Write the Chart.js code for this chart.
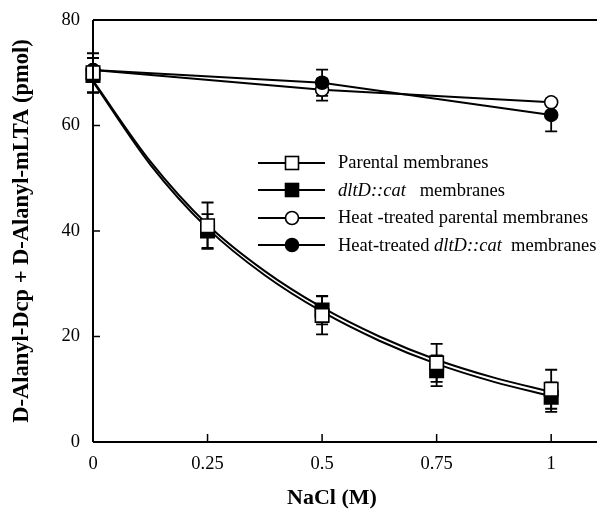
<!DOCTYPE html>
<html>
<head>
<meta charset="utf-8">
<script src="https://cdn.jsdelivr.net/npm/chart.js@4/dist/chart.umd.min.js"></script>
<style>
  html, body { margin: 0; padding: 0; background: #fff; }
  #wrap { position: relative; width: 597px; height: 509px; }
  #legend { position: absolute; left: 258px; top: 149px; font-family: 'Liberation Serif', serif; font-size: 18.5px; color: #000; }
  .row { display: flex; align-items: center; height: 27.5px; white-space: pre; }
  .row svg { margin-right: 12px; flex: none; }
  #xtitle { position: absolute; left: 232px; width: 200px; top: 484px; text-align: center; font-family: 'Liberation Serif', serif; font-weight: bold; font-size: 22px; line-height: 26px; color: #000; }
</style>
</head>
<body>
<div id="wrap">
  <canvas id="c" width="597" height="509"></canvas>
  <div id="legend"></div>
  <div id="xtitle">NaCl (M)</div>
</div>
<script>
// ---- data ----
const doses = [0, 0.25, 0.5, 0.75, 1];
const parental = [70, 41, 24, 15, 10];
const parentalErr = [3.7, 4.4, 3.6, 3.6, 3.7];
const dltD = [69.5, 40, 25, 13.5, 8.5];
const dltDErr = [3.3, 3.2, 2.7, 2.9, 2.8];
// smooth fitted curves as traced on the reference
const curveX = [0, 0.125, 0.25, 0.375, 0.5, 0.625, 0.75, 0.875, 1];
const parentalCurve = [68.5, 53.2, 41.2, 32.4, 25.5, 20.0, 15.6, 12.2, 9.5];
const dltDCurve = [68.3, 52.6, 40.5, 31.6, 24.7, 19.2, 14.8, 11.4, 8.7];
const heatDoses = [0, 0.5, 1];
const heatParental = [70.5, 66.8, 64.4];
const heatParentalErr = [0, 2.1, 0];
const heatDltD = [70.5, 68.1, 62.0];
const heatDltDErr = [0, 2.5, 3.1];
const xTicks = [0, 0.25, 0.5, 0.75, 1];
const yTicks = [0, 20, 40, 60, 80];
const legendNames = [
  [['Parental membranes', false]],
  [['dltD::cat', true], ['   membranes', false]],
  [['Heat -treated parental membranes', false]],
  [['Heat-treated ', false], ['dltD::cat', true], ['  membranes', false]]
];
const legendMarkers = [['rect', '#fff'], ['rect', '#000'], ['circle', '#fff'], ['circle', '#000']];

const toXY = (xs, ys) => xs.map((x, i) => ({x: x, y: ys[i]}));
const FONT = "'Liberation Serif', 'Times New Roman', serif";

const errorBars = {
  id: 'errorBars',
  beforeDatasetsDraw(chart) {
    const ctx = chart.ctx;
    const xs = chart.scales.x, ys = chart.scales.y;
    const sets = [
      [doses, parental, parentalErr],
      [doses, dltD, dltDErr],
      [heatDoses, heatParental, heatParentalErr],
      [heatDoses, heatDltD, heatDltDErr]
    ];
    ctx.save();
    ctx.strokeStyle = '#000';
    ctx.lineWidth = 1.8;
    sets.forEach(([xv, yv, ev]) => {
      xv.forEach((x, i) => {
        if (!ev[i]) return;
        const px = xs.getPixelForValue(x);
        const top = ys.getPixelForValue(yv[i] + ev[i]);
        const bot = ys.getPixelForValue(yv[i] - ev[i]);
        ctx.beginPath();
        ctx.moveTo(px, top); ctx.lineTo(px, bot);
        ctx.moveTo(px - 6, top); ctx.lineTo(px + 6, top);
        ctx.moveTo(px - 6, bot); ctx.lineTo(px + 6, bot);
        ctx.stroke();
      });
    });
    ctx.restore();
  }
};

const frame = {
  id: 'frame',
  afterDraw(chart) {
    const ctx = chart.ctx;
    const a = chart.chartArea;
    const xs = chart.scales.x, ys = chart.scales.y;
    ctx.save();
    ctx.strokeStyle = '#000';
    ctx.lineWidth = 2;
    ctx.beginPath();
    ctx.moveTo(a.left, a.top); ctx.lineTo(a.right, a.top);
    ctx.moveTo(a.left, a.top); ctx.lineTo(a.left, a.bottom);
    ctx.moveTo(a.left, a.bottom); ctx.lineTo(a.right, a.bottom);
    ctx.stroke();
    ctx.lineWidth = 1.5;
    ctx.beginPath();
    yTicks.forEach(v => {
      const py = ys.getPixelForValue(v);
      ctx.moveTo(a.left, py); ctx.lineTo(a.left + 7, py);
    });
    xTicks.forEach(v => {
      const px = xs.getPixelForValue(v);
      ctx.moveTo(px, a.bottom); ctx.lineTo(px, a.bottom - 8);
    });
    ctx.stroke();
    ctx.restore();
  }
};

const curveStyle = { borderColor: '#000', borderWidth: 2, pointRadius: 0, cubicInterpolationMode: 'monotone' };
const markerStyle = { showLine: false, pointBorderColor: '#000', pointBorderWidth: 1.6 };

const chart = new Chart(document.getElementById('c'), {
  type: 'line',
  data: {
    datasets: [
      Object.assign({ label: 'Parental fit', data: toXY(curveX, parentalCurve), order: 10 }, curveStyle),
      Object.assign({ label: 'dltD fit', data: toXY(curveX, dltDCurve), order: 9 }, curveStyle),
      { label: 'Heat -treated parental membranes', data: toXY(heatDoses, heatParental), borderColor: '#000', borderWidth: 2,
        pointStyle: 'circle', pointRadius: 6.5, pointBackgroundColor: '#fff', pointBorderColor: '#000', pointBorderWidth: 1.6,
        tension: 0, order: 4 },
      { label: 'Heat-treated dltD::cat membranes', data: toXY(heatDoses, heatDltD), borderColor: '#000', borderWidth: 2,
        pointStyle: 'circle', pointRadius: 6.5, pointBackgroundColor: '#000', pointBorderColor: '#000', pointBorderWidth: 1.6,
        tension: 0, order: 3 },
      Object.assign({ label: 'dltD::cat membranes', data: toXY(doses, dltD), pointStyle: 'rect', pointRadius: 9.5,
        pointBackgroundColor: '#000', order: 2 }, markerStyle),
      Object.assign({ label: 'Parental membranes', data: toXY(doses, parental), pointStyle: 'rect', pointRadius: 9.5,
        pointBackgroundColor: '#fff', order: 1 }, markerStyle)
    ]
  },
  options: {
    responsive: false,
    animation: false,
    clip: false,
    layout: { autoPadding: false, padding: { top: 20, right: 0, left: 0, bottom: 0 } },
    plugins: { legend: { display: false }, tooltip: { enabled: false } },
    scales: {
      x: {
        type: 'linear', min: 0, max: 1.1,
        afterBuildTicks: s => { s.ticks = xTicks.map(v => ({value: v})); },
        afterFit: s => { s.height = 67; s.paddingLeft = 0; s.paddingRight = 0; },
        grid: { display: false, drawTicks: false, tickLength: 0 },
        border: { display: false },
        ticks: { color: '#000', font: { family: FONT, size: 18.5 }, padding: 11, maxRotation: 0,
                 callback: v => String(v) },
        title: { display: false }
      },
      y: {
        type: 'linear', min: 0, max: 80,
        afterBuildTicks: s => { s.ticks = yTicks.map(v => ({value: v})); },
        afterFit: s => { s.width = 93; s.paddingTop = 0; s.paddingBottom = 0; },
        grid: { display: false, drawTicks: false, tickLength: 0 },
        border: { display: false },
        ticks: { color: '#000', font: { family: FONT, size: 18.5 }, padding: 13 },
        title: { display: true, text: 'D-Alanyl-Dcp + D-Alanyl-mLTA (pmol)', color: '#000', font: { family: FONT, size: 22.5, weight: 'bold' }, padding: { top: 9, bottom: 0 } }
      }
    }
  },
  plugins: [errorBars, frame]
});

// ---- HTML legend ----
const legend = document.getElementById('legend');
const ns = 'http://www.w3.org/2000/svg';
legendNames.forEach((parts, i) => {
  const row = document.createElement('div');
  row.className = 'row';
  const svg = document.createElementNS(ns, 'svg');
  svg.setAttribute('width', '68'); svg.setAttribute('height', '18');
  const line = document.createElementNS(ns, 'line');
  line.setAttribute('x1', '0'); line.setAttribute('x2', '67'); line.setAttribute('y1', '9'); line.setAttribute('y2', '9');
  line.setAttribute('stroke', '#000'); line.setAttribute('stroke-width', '2');
  svg.appendChild(line);
  const [shape, fill] = legendMarkers[i];
  let m;
  if (shape === 'rect') {
    m = document.createElementNS(ns, 'rect');
    m.setAttribute('x', '27.5'); m.setAttribute('y', '2.5'); m.setAttribute('width', '13'); m.setAttribute('height', '13');
  } else {
    m = document.createElementNS(ns, 'circle');
    m.setAttribute('cx', '34'); m.setAttribute('cy', '9'); m.setAttribute('r', '6.5');
  }
  m.setAttribute('fill', fill); m.setAttribute('stroke', '#000'); m.setAttribute('stroke-width', '1.6');
  svg.appendChild(m);
  row.appendChild(svg);
  const label = document.createElement('span');
  parts.forEach(([txt, ital]) => {
    if (ital) { const it = document.createElement('i'); it.textContent = txt; label.appendChild(it); }
    else { label.appendChild(document.createTextNode(txt)); }
  });
  row.appendChild(label);
  legend.appendChild(row);
});
</script>
</body>
</html>
